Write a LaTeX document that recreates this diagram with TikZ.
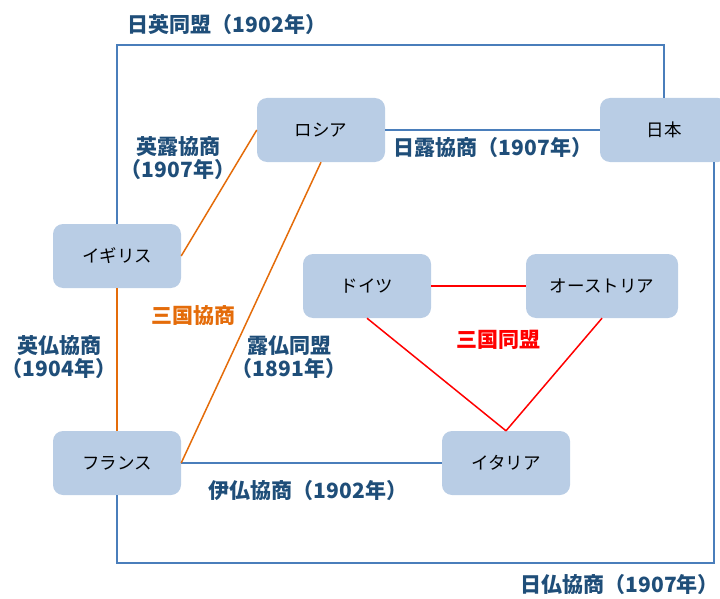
\documentclass[tikz,border=0pt]{standalone}
\usepackage{fontspec}
\setmainfont{Noto Sans CJK JP}
\definecolor{boxfill}{HTML}{B9CDE5}
\definecolor{lnblue}{HTML}{4A7EBB}
\definecolor{lbblue}{HTML}{1F4E79}
\definecolor{lnorange}{HTML}{E46C0A}
\definecolor{lnred}{HTML}{FF0000}
\tikzset{
  country/.style={fill=boxfill, rounded corners=10pt, minimum width=128pt, minimum height=64pt, inner sep=0pt, font=\fontsize{17.5}{20}\selectfont, text=black},
  rel/.style={font=\bfseries\fontsize{21}{23.5}\selectfont, text=lbblue, align=center, inner sep=0pt},
  bl/.style={draw=lnblue, line width=1.5pt},
  orl/.style={draw=lnorange, line width=1.5pt},
  rdl/.style={draw=lnred, line width=1.5pt}
}
\begin{document}
\begin{tikzpicture}[x=1pt,y=-1pt]
\useasboundingbox (0,0) rectangle (720,599);
\node[country] (ig) at (117,256) {イギリス};
\node[country] (ro) at (321,130) {ロシア};
\node[country] (jp) at (664,130) {日本};
\node[country] (de) at (367,286) {ドイツ};
\node[country, minimum width=152pt] (at) at (602,286) {オーストリア};
\node[country] (fr) at (117,463) {フランス};
\node[country] (it) at (506,463) {イタリア};
\coordinate (c1) at (400,45);
\coordinate (c2) at (400,563);
% blue relations
\draw[bl] (ig.north) |- (c1) -| (jp.north);
\draw[bl] (fr.south) |- (c2) -| ([xshift=-14pt]jp.south east);
\draw[bl] (ro.east) -- (jp.west);
\draw[bl] (fr.east) -- (it.west);
% orange
\draw[orl] (ig.east) -- (ro.west);
\draw[orl] (ro.south) -- (fr.east);
\draw[orl] (ig.south) -- (fr.north);
% red
\draw[rdl] (de.east) -- (at.west);
\draw[rdl] (de.south) -- (it.north);
\draw[rdl] (at.south) -- (it.north);
% labels
\node[rel] (l1) at (227,25) {日英同盟（1902年）};
\node[rel] (l2) at (178,158) {英露協商\\（1907年）};
\node[rel] (l3) at (493,148) {日露協商（1907年）};
\node[rel, text=lnorange] (l4) at (193,316) {三国協商};
\node[rel] (l5) at (59,357) {英仏協商\\（1904年）};
\node[rel] (l6) at (289,357) {露仏同盟\\（1891年）};
\node[rel] (l7) at (308,491) {伊仏協商（1902年）};
\node[rel, text=lnred] (l8) at (498,340) {三国同盟};
\node[rel, anchor=east] (l9) at (719,585) {日仏協商（1907年）};
\end{tikzpicture}
\end{document}
